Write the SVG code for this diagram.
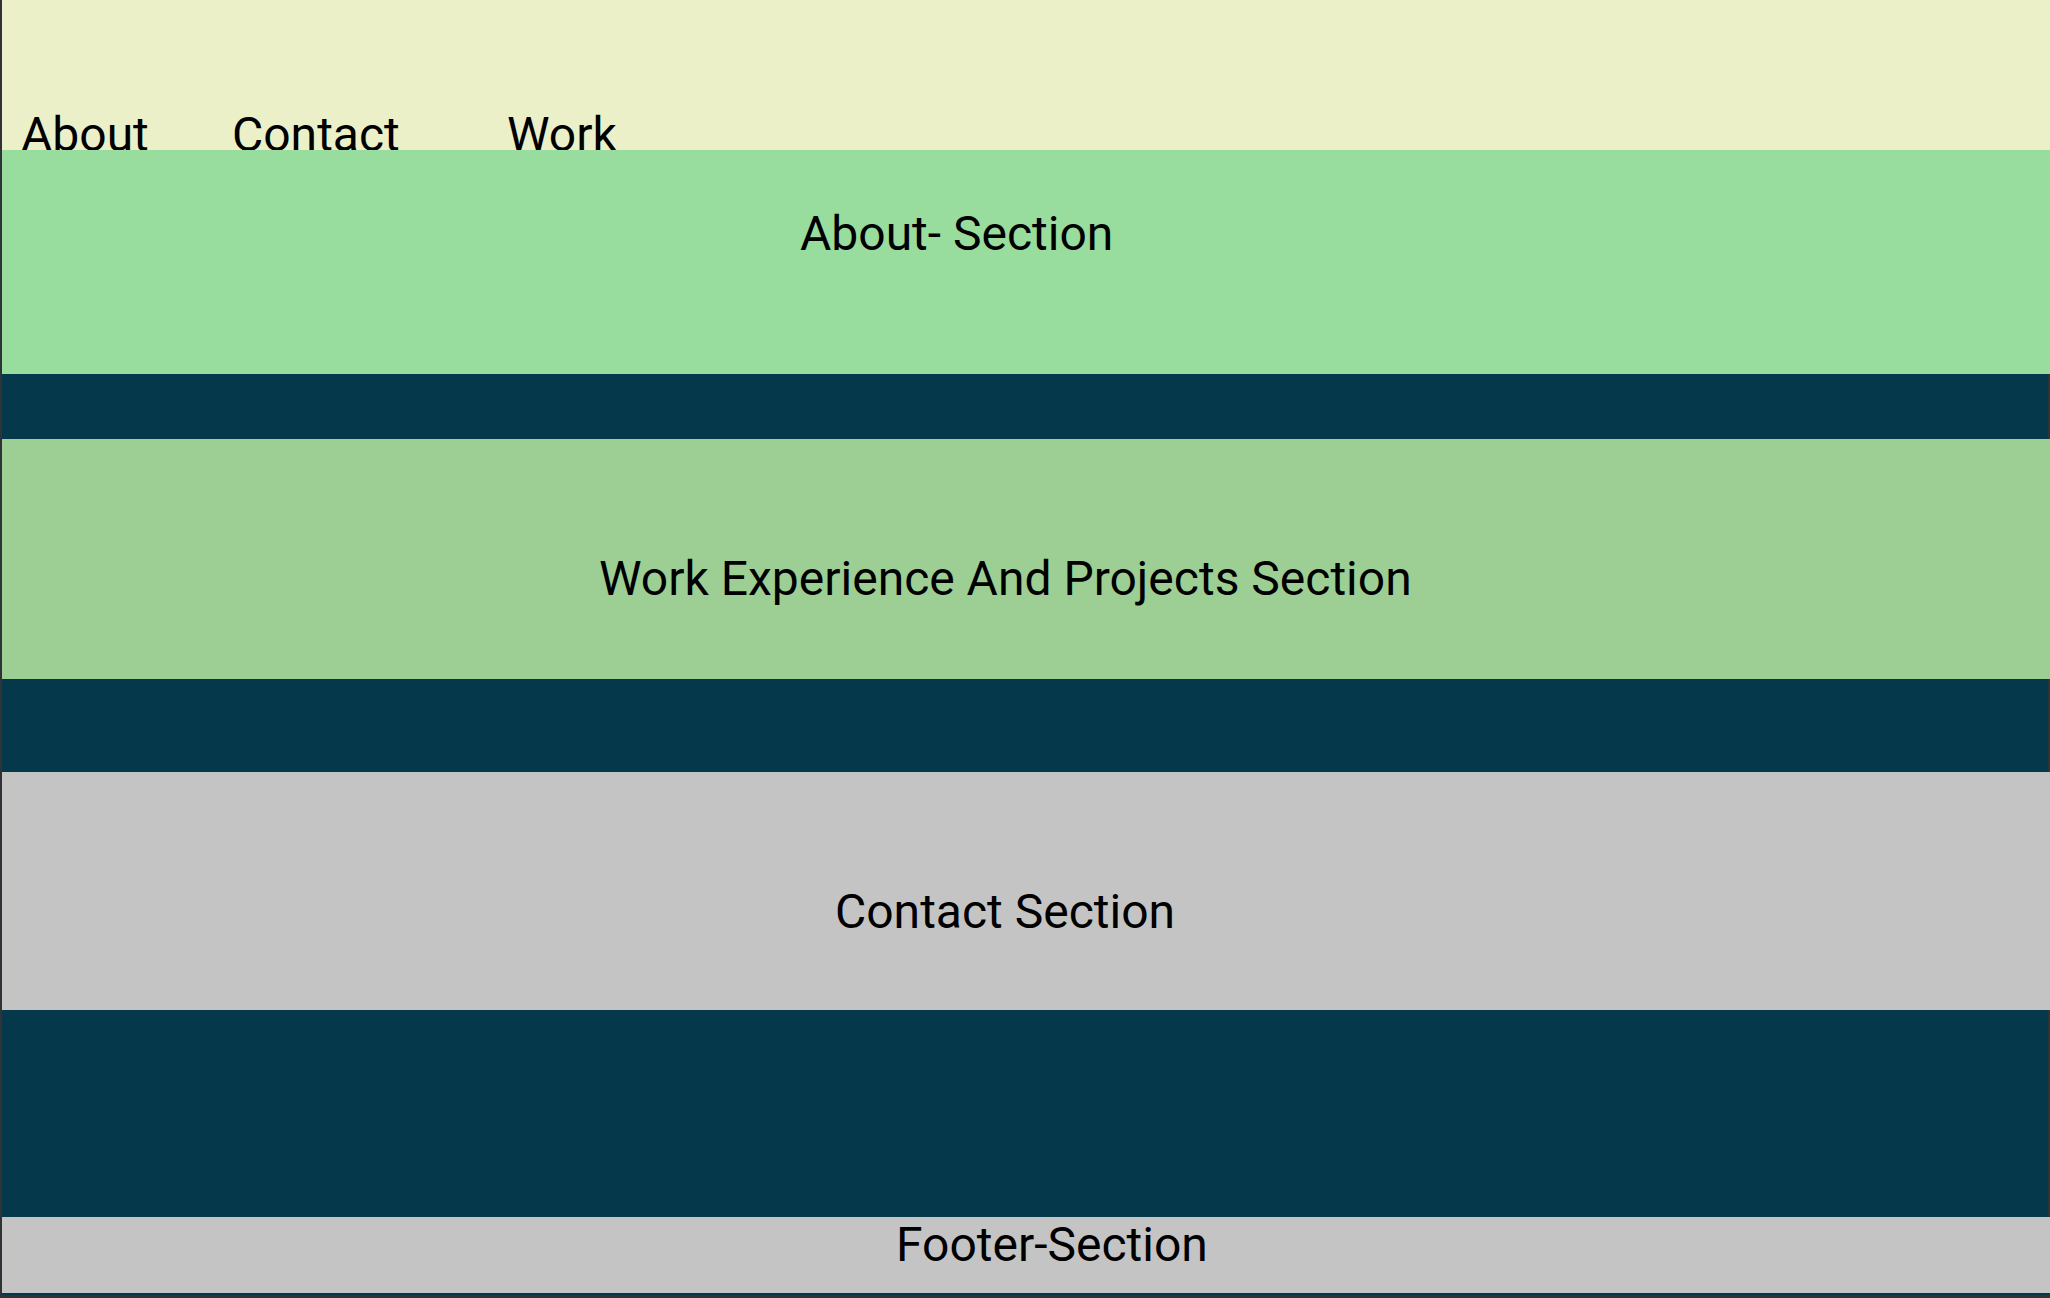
<svg xmlns="http://www.w3.org/2000/svg" width="2050" height="1298" viewBox="0 0 2050 1298">
  <style>
    .lbl { font-family: Roboto, "Liberation Sans", sans-serif; font-size: 48px; fill: #000000; }
    .navy { fill: #05384A; }
    .grey { fill: #C4C4C4; }
  </style>
  <!-- page frame -->
  <rect x="0" y="0" width="2050" height="1298" fill="#2F3338"/>

  <!-- header with navigation links -->
  <g id="header">
    <rect x="2" y="0" width="2048" height="150" fill="#EBF0C8"/>
    <text class="lbl" x="21" y="151">About</text>
    <text class="lbl" x="232" y="151">Contact</text>
    <text class="lbl" x="507" y="151">Work</text>
  </g>

  <g id="about-section">
    <rect x="2" y="150" width="2048" height="224" fill="#98DC9E"/>
    <text class="lbl" x="800" y="250">About- Section</text>
  </g>

  <g id="spacer-1"><rect class="navy" x="2" y="374" width="2046" height="65"/></g>

  <g id="work-section">
    <rect x="2" y="439" width="2048" height="240" fill="#9DCF94"/>
    <text class="lbl" x="599" y="595">Work Experience And Projects Section</text>
  </g>

  <g id="spacer-2"><rect class="navy" x="2" y="679" width="2046" height="93"/></g>

  <g id="contact-section">
    <rect class="grey" x="2" y="772" width="2048" height="238"/>
    <text class="lbl" x="835" y="928">Contact Section</text>
  </g>

  <g id="spacer-3"><rect class="navy" x="2" y="1010" width="2046" height="207"/></g>

  <g id="footer-section">
    <rect class="grey" x="2" y="1217" width="2048" height="76"/>
    <text class="lbl" x="896" y="1261">Footer-Section</text>
  </g>
  <rect class="navy" x="2" y="1293" width="2048" height="2"/>

  <g id="connectors"/>
</svg>
